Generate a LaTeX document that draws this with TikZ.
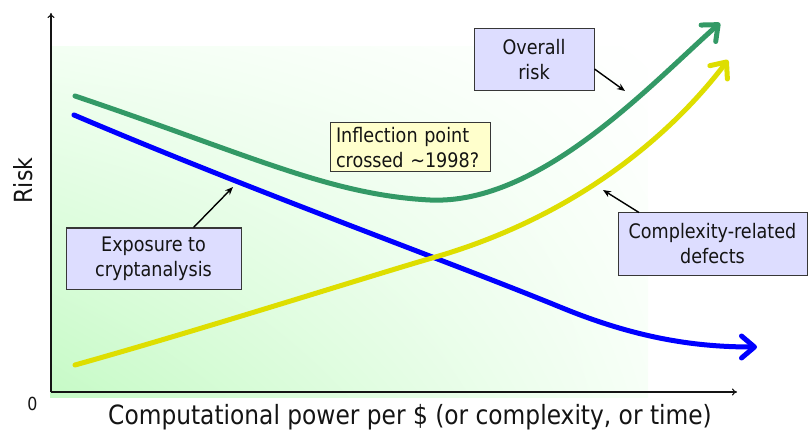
\documentclass[tikz,border=0pt]{standalone}
\usepackage{fontspec}
\setmainfont{DejaVu Sans}[FakeStretch=0.88]
\usetikzlibrary{arrows.meta,shadings}

\definecolor{riskGreen}{RGB}{51,153,102}
\definecolor{cryptoBlue}{RGB}{0,0,255}
\definecolor{defectYellow}{RGB}{222,222,0}
\definecolor{calloutFill}{RGB}{221,221,255}
\definecolor{noteFill}{RGB}{255,255,204}
\definecolor{frameGray}{RGB}{55,55,55}
\definecolor{ink}{RGB}{20,20,20}
\definecolor{bgLL}{RGB}{198,250,198}
\definecolor{bgUL}{RGB}{243,255,243}
\definecolor{bgLR}{RGB}{247,255,247}

\begin{document}
\begin{tikzpicture}[x=1pt,y=-1pt,
  curve/.style={line width=5pt, line cap=round, line join=round,
    -{Straight Barb[length=13pt,width=22pt,round]}},
  callout/.style={draw=frameGray, line width=1pt, fill=calloutFill, text=ink,
    font=\fontsize{20}{25}\selectfont, align=center, inner sep=0pt},
  pointer/.style={draw=black, line width=1.4pt, -{Stealth[length=8pt,width=6.5pt]}},
  axisline/.style={draw=ink, line width=1.1pt, -{To[length=5pt,width=7pt]}}]

\useasboundingbox (0,0) rectangle (810,430);

% background wash behind the plot
\shade[lower left=bgLL, upper left=bgUL, lower right=bgLR, upper right=white]
  (50,47) rectangle (648,397);

% axes
\coordinate (O) at (51,392);
\coordinate (ytop) at (51,13);
\coordinate (xend) at (737,392);
\draw[axisline] (O) -- (ytop);
\draw[axisline] (O) -- (xend);

\node[font=\fontsize{18}{20}\selectfont, text=ink] (zero) at (32.5,403.5) {0};
\node[font=\fontsize{25}{30}\selectfont, text=ink, rotate=90, anchor=base] (ylab)
  at (32,180.5) {Risk};
\node[font=\fontsize{26.5}{30}\selectfont, text=ink, anchor=base] (xlab)
  at (410,424) {Computational power per \$ (or complexity, or time)};

% exposure to cryptanalysis
\draw[curve, cryptoBlue] (74,115) .. controls (250,190) and (450,262) .. (560,307)
  .. controls (640,340) and (700,347) .. (757,347);

% complexity-related defects
\draw[curve, defectYellow] (75,365) .. controls (200,330) and (370,276) .. (432,258)
  .. controls (600,210) and (690,110) .. (728,60);

% overall risk
\draw[curve, riskGreen] (75,96) .. controls (250,155) and (330,195) .. (430,200)
  .. controls (540,205) and (650,85) .. (720,23);

% callouts
\node[callout, minimum width=120pt, minimum height=62pt] (ovr) at (534,60)
  {Overall\\risk};
\node[callout, fill=noteFill, minimum height=49pt, text width=148pt,
  inner xsep=6pt, align=left] (infl) at (410,147.5)
  {Inflection point\\crossed \textasciitilde1998?};
\node[callout, minimum width=175pt, minimum height=61pt] (expo) at (153.5,258.5)
  {Exposure to\\cryptanalysis};
\node[callout, minimum width=189pt, minimum height=62pt] (cplx) at (712.5,244)
  {Complexity-related\\defects};

% pointers from callouts to curves
\coordinate (tipO) at (625,91);
\coordinate (tipE) at (233,187);
\coordinate (tipC) at (603,190);
\draw[pointer] (ovr.east) ++(0,9) -- (tipO);
\draw[pointer] (expo.north) ++(40,0) -- (tipE);
\draw[pointer] (cplx.north) ++(-73.5,0) -- (tipC);

\end{tikzpicture}
\end{document}
